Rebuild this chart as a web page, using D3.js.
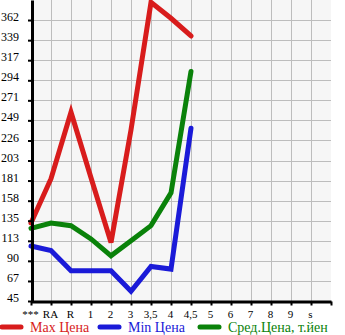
<!DOCTYPE html>
<html>
<head>
<meta charset="utf-8">
<script src="https://cdn.jsdelivr.net/npm/d3@7"></script>
<style>
body{margin:0;background:#fff}
svg text{font-family:"Liberation Serif","DejaVu Serif",serif}
</style>
</head>
<body>
<script>
const categories=['***','RA','R','1','2','3','3,5','4','4,5','5','6','7','8','9','s','']
const maxPrice=[133,183,258,184,111,238,382,364,344]
const minPrice=[107,102,79,79,79,56,84,81,240]
const avgPrice=[127,133,130,115,96,113,130,167,304]
const yTicks=[45,67.6,90.3,112.9,135.6,158.2,180.9,203.5,226.1,248.8,271.4,294,316.7,339.3,362]
const yTickLabels=['45','67','90','113','135','158','181','203','226','249','271','294','317','339','362']
const legendNames=['Max Цена','Min Цена','Сред.Цена, т.йен']
const colors=['#d81c1c','#1a1ad8','#0a820a']

const width=345
const height=335
const plotLeft=31, plotRight=331, plotTop=0, plotBottom=301

const svg=d3.select('body').append('svg').attr('width',width).attr('height',height)

const xScale=d3.scalePoint().domain(categories).range([plotLeft,plotRight])
const yScale=d3.scaleLinear().domain([45,384.6]).range([plotBottom,plotTop])

svg.append('rect').attr('x',plotLeft).attr('y',plotTop).attr('width',plotRight-plotLeft).attr('height',plotBottom-plotTop).attr('fill','#f6f6f6')

// grid
svg.append('g').selectAll('line').data(categories.slice(1,-1)).enter().append('line')
   .attr('x1',d=>xScale(d)+0.5).attr('x2',d=>xScale(d)+0.5)
   .attr('y1',plotTop).attr('y2',plotBottom)
   .attr('stroke','#bdbdbd').attr('stroke-width',1)
svg.append('g').selectAll('line').data(yTicks.slice(1)).enter().append('line')
   .attr('x1',plotLeft).attr('x2',plotRight)
   .attr('y1',d=>Math.round(yScale(d))+0.5).attr('y2',d=>Math.round(yScale(d))+0.5)
   .attr('stroke','#bdbdbd').attr('stroke-width',1)

const series=[maxPrice,minPrice,avgPrice]
const line=d3.line().x((d,i)=>xScale(categories[i])).y(d=>yScale(d))
series.forEach((s,k)=>{
  svg.append('path').datum(s).attr('d',line)
     .attr('fill','none').attr('stroke',colors[k]).attr('stroke-width',5)
     .attr('stroke-linejoin','miter').attr('stroke-linecap','round')
})

// axes
const xAxis=d3.axisBottom(xScale).tickSize(4).tickPadding(5).tickSizeOuter(0)
const gx=svg.append('g').attr('transform','translate(0,'+(plotBottom+0.5)+')').call(xAxis)
gx.select('.domain').attr('stroke-width',3)
gx.selectAll('.tick line').attr('stroke-width',2)
gx.selectAll('text').attr('font-size',11).attr('dx',-1).attr('fill','#000')

const yAxis=d3.axisLeft(yScale).tickValues(yTicks).tickFormat((d,i)=>yTickLabels[i]).tickSize(4).tickPadding(9).tickSizeOuter(0)
const gy=svg.append('g').attr('transform','translate('+(plotLeft+1)+',0)').call(yAxis)
gy.select('.domain').attr('stroke-width',3)
gy.selectAll('.tick line').attr('stroke-width',2)
gy.selectAll('text').attr('font-size',12).attr('dy','0.05em').attr('fill','#000')

// legend
const legendX=[0,98,198]
const lg=svg.append('g').selectAll('g').data(legendNames).enter().append('g')
   .attr('transform',(d,i)=>'translate('+legendX[i]+',327)')
lg.append('line').attr('x1',2).attr('x2',21).attr('y1',0).attr('y2',0)
   .attr('stroke',(d,i)=>colors[i]).attr('stroke-width',5).attr('stroke-linecap','round')
lg.append('text').attr('x',30).attr('y',5).text(d=>d)
   .attr('fill',(d,i)=>colors[i]).attr('font-size',14)
</script>
</body>
</html>
